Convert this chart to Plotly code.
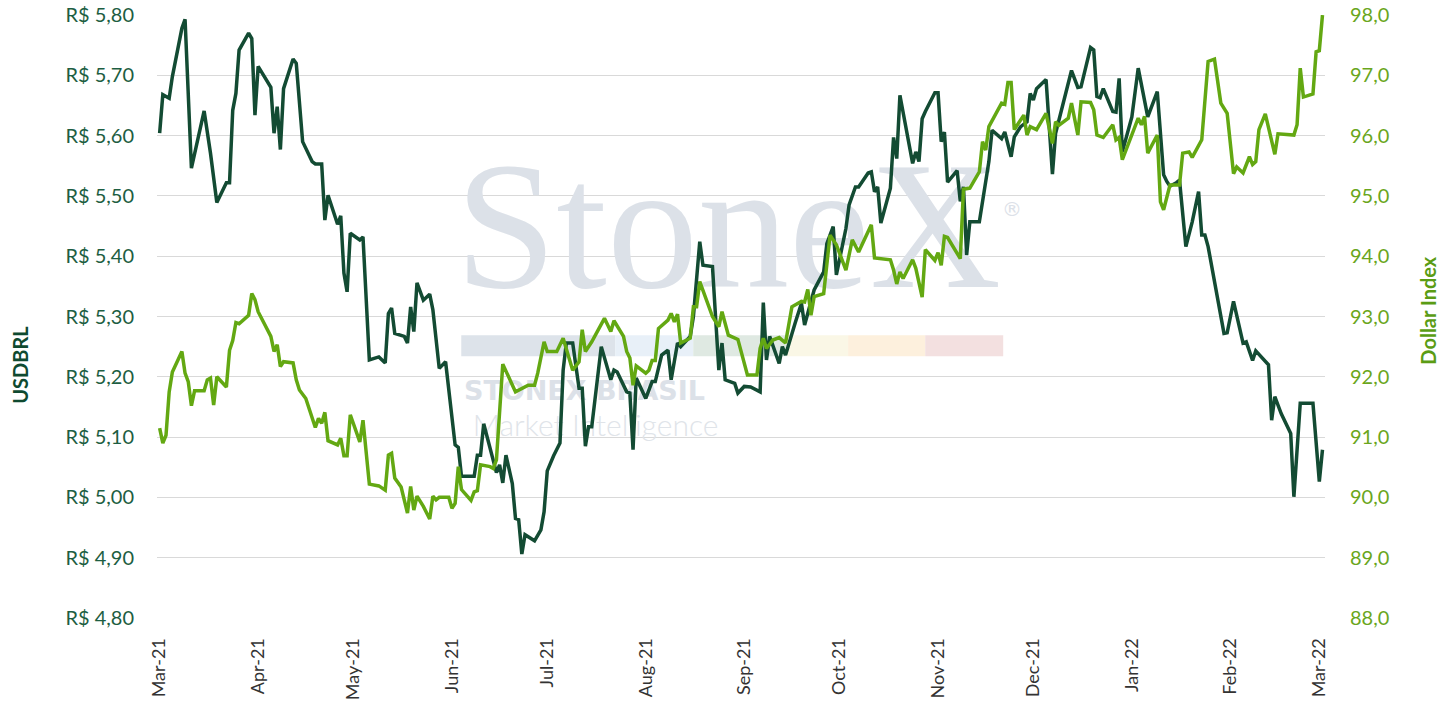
import plotly.graph_objects as go

# USDBRL (left axis)
usd_dates = [
    "2021-03-01", "2021-03-02", "2021-03-04", "2021-03-05", "2021-03-08", "2021-03-09", "2021-03-11",
    "2021-03-15", "2021-03-17", "2021-03-19", "2021-03-22", "2021-03-23", "2021-03-24", "2021-03-25",
    "2021-03-26", "2021-03-29", "2021-03-30", "2021-03-31", "2021-04-01", "2021-04-05", "2021-04-06",
    "2021-04-07", "2021-04-08", "2021-04-09", "2021-04-12", "2021-04-13", "2021-04-15", "2021-04-18",
    "2021-04-19", "2021-04-21", "2021-04-22", "2021-04-23", "2021-04-26", "2021-04-27", "2021-04-28",
    "2021-04-29", "2021-04-30", "2021-05-03", "2021-05-04", "2021-05-06", "2021-05-09", "2021-05-11",
    "2021-05-12", "2021-05-13", "2021-05-14", "2021-05-17", "2021-05-18", "2021-05-19", "2021-05-20",
    "2021-05-21", "2021-05-23", "2021-05-25", "2021-05-26", "2021-05-28", "2021-05-30", "2021-06-02",
    "2021-06-03", "2021-06-04", "2021-06-08", "2021-06-09", "2021-06-10", "2021-06-11", "2021-06-15",
    "2021-06-16", "2021-06-17", "2021-06-18", "2021-06-20", "2021-06-21", "2021-06-22", "2021-06-23",
    "2021-06-24", "2021-06-27", "2021-06-29", "2021-06-30", "2021-07-01", "2021-07-03", "2021-07-05",
    "2021-07-06", "2021-07-07", "2021-07-09", "2021-07-11", "2021-07-12", "2021-07-13", "2021-07-14",
    "2021-07-15", "2021-07-18", "2021-07-21", "2021-07-22", "2021-07-23", "2021-07-26", "2021-07-27",
    "2021-07-28", "2021-07-29", "2021-08-01", "2021-08-03", "2021-08-04", "2021-08-06", "2021-08-08",
    "2021-08-09", "2021-08-11", "2021-08-12", "2021-08-15", "2021-08-16", "2021-08-18", "2021-08-19",
    "2021-08-22", "2021-08-24", "2021-08-25", "2021-08-26", "2021-08-29", "2021-08-30", "2021-09-01",
    "2021-09-03", "2021-09-06", "2021-09-07", "2021-09-08", "2021-09-09", "2021-09-12", "2021-09-13",
    "2021-09-14", "2021-09-17", "2021-09-19", "2021-09-20", "2021-09-23", "2021-09-26", "2021-09-27",
    "2021-09-29", "2021-09-30", "2021-10-03", "2021-10-04", "2021-10-06", "2021-10-07", "2021-10-10",
    "2021-10-11", "2021-10-12", "2021-10-13", "2021-10-14", "2021-10-17", "2021-10-18", "2021-10-19",
    "2021-10-20", "2021-10-21", "2021-10-24", "2021-10-25", "2021-10-26", "2021-10-27", "2021-10-28",
    "2021-10-31", "2021-11-01", "2021-11-02", "2021-11-03", "2021-11-04", "2021-11-07", "2021-11-08",
    "2021-11-09", "2021-11-10", "2021-11-11", "2021-11-14", "2021-11-16", "2021-11-17", "2021-11-18",
    "2021-11-21", "2021-11-22", "2021-11-24", "2021-11-25", "2021-11-27", "2021-11-29", "2021-11-30",
    "2021-12-01", "2021-12-02", "2021-12-05", "2021-12-07", "2021-12-08", "2021-12-12", "2021-12-13",
    "2021-12-15", "2021-12-16", "2021-12-19", "2021-12-20", "2021-12-21", "2021-12-22", "2021-12-23",
    "2021-12-26", "2021-12-27", "2021-12-28", "2021-12-29", "2022-01-01", "2022-01-03", "2022-01-06",
    "2022-01-09", "2022-01-11", "2022-01-12", "2022-01-13", "2022-01-15", "2022-01-16", "2022-01-18",
    "2022-01-20", "2022-01-22", "2022-01-23", "2022-01-24", "2022-01-25", "2022-01-30", "2022-01-31",
    "2022-02-02", "2022-02-05", "2022-02-06", "2022-02-08", "2022-02-09", "2022-02-13", "2022-02-14",
    "2022-02-15", "2022-02-17", "2022-02-20", "2022-02-21", "2022-02-23", "2022-02-27", "2022-03-01",
    "2022-03-02",
]
usd_values = [
    5.604, 5.668, 5.662, 5.698, 5.778, 5.793, 5.546,
    5.641, 5.571, 5.489, 5.522, 5.522, 5.642, 5.670,
    5.742, 5.770, 5.761, 5.634, 5.715, 5.680, 5.604,
    5.648, 5.577, 5.678, 5.727, 5.720, 5.590, 5.557,
    5.553, 5.553, 5.460, 5.501, 5.453, 5.467, 5.372,
    5.341, 5.438, 5.427, 5.432, 5.228, 5.233, 5.223,
    5.305, 5.314, 5.272, 5.267, 5.256, 5.316, 5.275,
    5.356, 5.327, 5.337, 5.311, 5.214, 5.225, 5.087,
    5.083, 5.035, 5.035, 5.070, 5.070, 5.122, 5.041,
    5.054, 5.024, 5.070, 5.023, 4.965, 4.963, 4.906,
    4.938, 4.928, 4.946, 4.976, 5.044, 5.069, 5.090,
    5.211, 5.256, 5.256, 5.181, 5.181, 5.085, 5.117,
    5.117, 5.250, 5.195, 5.211, 5.208, 5.175, 5.173,
    5.079, 5.198, 5.164, 5.192, 5.192, 5.236, 5.244,
    5.195, 5.256, 5.250, 5.267, 5.300, 5.424, 5.385,
    5.383, 5.211, 5.256, 5.195, 5.189, 5.173, 5.184,
    5.183, 5.175, 5.323, 5.228, 5.267, 5.222, 5.250,
    5.236, 5.289, 5.322, 5.286, 5.344, 5.374, 5.421,
    5.449, 5.369, 5.446, 5.485, 5.515, 5.515, 5.538,
    5.540, 5.507, 5.515, 5.455, 5.513, 5.597, 5.562,
    5.667, 5.637, 5.554, 5.573, 5.557, 5.628, 5.640,
    5.671, 5.671, 5.590, 5.606, 5.523, 5.542, 5.491,
    5.515, 5.402, 5.457, 5.457, 5.524, 5.557, 5.609,
    5.595, 5.606, 5.565, 5.598, 5.615, 5.623, 5.670,
    5.659, 5.678, 5.693, 5.536, 5.604, 5.689, 5.708,
    5.680, 5.681, 5.746, 5.742, 5.665, 5.663, 5.678,
    5.640, 5.639, 5.695, 5.573, 5.631, 5.712, 5.631,
    5.673, 5.535, 5.524, 5.516, 5.522, 5.526, 5.416,
    5.457, 5.507, 5.435, 5.435, 5.416, 5.272, 5.273,
    5.325, 5.256, 5.258, 5.227, 5.243, 5.220, 5.128,
    5.167, 5.139, 5.106, 5.001, 5.156, 5.156, 5.026,
    5.079,
]

# Dollar Index (right axis)
dxy_dates = [
    "2021-03-01", "2021-03-02", "2021-03-03", "2021-03-04", "2021-03-05", "2021-03-08", "2021-03-09",
    "2021-03-10", "2021-03-11", "2021-03-12", "2021-03-15", "2021-03-16", "2021-03-17", "2021-03-18",
    "2021-03-19", "2021-03-22", "2021-03-23", "2021-03-24", "2021-03-25", "2021-03-26", "2021-03-29",
    "2021-03-30", "2021-03-31", "2021-04-01", "2021-04-05", "2021-04-06", "2021-04-07", "2021-04-08",
    "2021-04-09", "2021-04-12", "2021-04-13", "2021-04-14", "2021-04-16", "2021-04-19", "2021-04-20",
    "2021-04-21", "2021-04-22", "2021-04-23", "2021-04-26", "2021-04-27", "2021-04-28", "2021-04-29",
    "2021-04-30", "2021-05-03", "2021-05-04", "2021-05-06", "2021-05-09", "2021-05-11", "2021-05-12",
    "2021-05-13", "2021-05-14", "2021-05-16", "2021-05-18", "2021-05-19", "2021-05-20", "2021-05-21",
    "2021-05-23", "2021-05-25", "2021-05-26", "2021-05-27", "2021-05-28", "2021-05-31", "2021-06-01",
    "2021-06-02", "2021-06-03", "2021-06-04", "2021-06-07", "2021-06-08", "2021-06-09", "2021-06-10",
    "2021-06-13", "2021-06-14", "2021-06-15", "2021-06-17", "2021-06-21", "2021-06-25", "2021-06-27",
    "2021-06-28", "2021-06-30", "2021-07-01", "2021-07-04", "2021-07-06", "2021-07-09", "2021-07-11",
    "2021-07-12", "2021-07-13", "2021-07-15", "2021-07-19", "2021-07-21", "2021-07-22", "2021-07-25",
    "2021-07-26", "2021-07-27", "2021-07-28", "2021-07-29", "2021-08-01", "2021-08-02", "2021-08-03",
    "2021-08-04", "2021-08-05", "2021-08-08", "2021-08-09", "2021-08-10", "2021-08-11", "2021-08-12",
    "2021-08-15", "2021-08-16", "2021-08-17", "2021-08-18", "2021-08-22", "2021-08-24", "2021-08-25",
    "2021-08-27", "2021-08-30", "2021-09-02", "2021-09-05", "2021-09-06", "2021-09-07", "2021-09-08",
    "2021-09-10", "2021-09-12", "2021-09-14", "2021-09-16", "2021-09-19", "2021-09-20", "2021-09-21",
    "2021-09-22", "2021-09-23", "2021-09-26", "2021-09-28", "2021-09-30", "2021-10-03", "2021-10-05",
    "2021-10-07", "2021-10-11", "2021-10-12", "2021-10-17", "2021-10-18", "2021-10-19", "2021-10-20",
    "2021-10-21", "2021-10-24", "2021-10-25", "2021-10-27", "2021-10-28", "2021-10-31", "2021-11-01",
    "2021-11-02", "2021-11-03", "2021-11-04", "2021-11-08", "2021-11-09", "2021-11-11", "2021-11-14",
    "2021-11-15", "2021-11-16", "2021-11-17", "2021-11-21", "2021-11-22", "2021-11-23", "2021-11-24",
    "2021-11-25", "2021-11-28", "2021-11-29", "2021-11-30", "2021-12-02", "2021-12-05", "2021-12-07",
    "2021-12-08", "2021-12-09", "2021-12-12", "2021-12-13", "2021-12-15", "2021-12-16", "2021-12-19",
    "2021-12-20", "2021-12-21", "2021-12-23", "2021-12-26", "2021-12-27", "2021-12-28", "2021-12-29",
    "2022-01-03", "2022-01-04", "2022-01-05", "2022-01-06", "2022-01-09", "2022-01-10", "2022-01-11",
    "2022-01-13", "2022-01-16", "2022-01-17", "2022-01-19", "2022-01-20", "2022-01-23", "2022-01-25",
    "2022-01-27", "2022-01-29", "2022-01-31", "2022-02-02", "2022-02-03", "2022-02-05", "2022-02-07",
    "2022-02-08", "2022-02-09", "2022-02-10", "2022-02-12", "2022-02-15", "2022-02-16", "2022-02-21",
    "2022-02-22", "2022-02-23", "2022-02-24", "2022-02-27", "2022-02-28", "2022-03-01", "2022-03-02",
]
dxy_values = [
    91.15, 90.90, 91.03, 91.75, 92.08, 92.42, 92.06,
    91.92, 91.52, 91.77, 91.77, 91.95, 91.98, 91.53,
    92.00, 91.83, 92.44, 92.60, 92.90, 92.88, 93.02,
    93.38, 93.28, 93.08, 92.67, 92.42, 92.53, 92.17,
    92.25, 92.23, 91.95, 91.78, 91.64, 91.16, 91.31,
    91.23, 91.41, 90.94, 90.87, 90.98, 90.69, 90.69,
    91.37, 90.92, 91.28, 90.22, 90.19, 90.12, 90.70,
    90.73, 90.32, 90.17, 89.74, 90.18, 89.79, 90.02,
    89.85, 89.64, 90.02, 89.96, 90.00, 90.00, 89.82,
    89.90, 90.51, 90.13, 89.95, 90.09, 90.11, 90.54,
    90.51, 90.48, 90.62, 92.21, 91.75, 91.86, 91.86,
    92.06, 92.58, 92.42, 92.42, 92.64, 92.11, 92.25,
    92.78, 92.42, 92.58, 92.97, 92.75, 92.93, 92.67,
    92.42, 92.31, 91.86, 92.18, 92.06, 92.11, 92.27,
    92.27, 92.80, 92.94, 93.05, 92.91, 93.04, 92.56,
    92.64, 93.16, 93.16, 93.58, 93.00, 92.83, 93.08,
    92.69, 92.62, 92.03, 92.03, 92.47, 92.64, 92.47,
    92.61, 92.65, 92.56, 93.16, 93.25, 93.24, 93.45,
    93.02, 93.33, 93.38, 94.35, 94.19, 93.77, 94.27,
    94.07, 94.52, 93.97, 93.94, 93.77, 93.54, 93.74,
    93.63, 93.94, 93.80, 93.32, 94.11, 93.93, 94.06,
    93.85, 94.33, 94.31, 93.96, 95.11, 95.13, 95.40,
    95.90, 95.76, 96.15, 96.54, 96.52, 96.88, 96.88,
    96.10, 96.34, 96.01, 96.15, 96.10, 96.37, 95.87,
    96.23, 96.17, 96.29, 96.54, 96.01, 96.56, 96.55,
    96.43, 96.01, 95.97, 96.18, 95.93, 95.97, 95.60,
    96.29, 96.18, 96.32, 95.71, 96.01, 94.90, 94.77,
    95.18, 95.18, 95.71, 95.73, 95.64, 95.93, 97.23,
    97.27, 96.54, 96.37, 95.37, 95.48, 95.38, 95.65,
    95.52, 95.57, 96.10, 96.36, 95.69, 96.03, 96.01,
    96.18, 97.12, 96.64, 96.69, 97.39, 97.41, 98.00,
]

x_range = ["2021-02-28 04:00", "2022-03-02 19:00"]
usd_ticks = [4.8, 4.9, 5.0, 5.1, 5.2, 5.3, 5.4, 5.5, 5.6, 5.7, 5.8]
usd_labels = ["R$ 4,80", "R$ 4,90", "R$ 5,00", "R$ 5,10", "R$ 5,20", "R$ 5,30",
              "R$ 5,40", "R$ 5,50", "R$ 5,60", "R$ 5,70", "R$ 5,80"]
dxy_ticks = [88, 89, 90, 91, 92, 93, 94, 95, 96, 97, 98]

DARK = "#134b33"
LIGHT = "#63a812"
WM = "#dce1e8"

fig = go.Figure()

# watermark (StoneX logo) on a hidden 0-1 base subplot, so the lines sit on top of it
fig.add_trace(go.Scatter(x=[0.489], y=[0.624], mode="text", text=["StoneX"],
                         textfont=dict(family="Liberation Serif", size=182, color=WM),
                         hoverinfo="skip", showlegend=False))
fig.add_trace(go.Scatter(x=[0.732], y=[0.675], mode="text", text=["®"],
                         textfont=dict(family="DejaVu Sans", size=20, color=WM),
                         hoverinfo="skip", showlegend=False))
fig.add_trace(go.Scatter(x=[0.366], y=[0.372], mode="text", text=["STONEX BRASIL"],
                         textfont=dict(family="DejaVu Sans", size=27, color=WM, weight="bold"),
                         hoverinfo="skip", showlegend=False))
fig.add_trace(go.Scatter(x=[0.3755], y=[0.315], mode="text", text=["Market Intelligence"],
                         textfont=dict(family="Lato", size=30, color="#e0e4e9", weight=300),
                         hoverinfo="skip", showlegend=False))

fig.add_trace(go.Scatter(x=usd_dates, y=usd_values, name="USDBRL", mode="lines",
                         line=dict(color=DARK, width=3.5), xaxis="x2", yaxis="y2"))
fig.add_trace(go.Scatter(x=dxy_dates, y=dxy_values, name="Dollar Index", mode="lines",
                         line=dict(color=LIGHT, width=3.5), xaxis="x2", yaxis="y3"))

# coloured strip of the logo
strip_x = [0.2605, 0.3923, 0.4591, 0.5395, 0.5917, 0.6577, 0.7245]
strip_colors = ["#dde3ea", "#e8f0f8", "#dfe9e2", "#faf7e6", "#fdf0dd", "#f3e0e0"]
for i, c in enumerate(strip_colors):
    fig.add_shape(type="rect", xref="paper", yref="paper", layer="below",
                  x0=strip_x[i], x1=strip_x[i + 1], y0=0.434, y1=0.469,
                  fillcolor=c, line_width=0)

fig.update_layout(
    width=1452, height=719,
    margin=dict(l=157, r=127, t=15, b=101, autoexpand=False),
    plot_bgcolor="white", paper_bgcolor="white",
    separators=",.",
    showlegend=False,
    hovermode=False,
    font=dict(family="Lato", size=19, color="#333333"),
    xaxis=dict(range=[0, 1], visible=False, fixedrange=True, automargin=False),
    yaxis=dict(range=[0, 1], visible=False, fixedrange=True, automargin=False),
    xaxis2=dict(overlaying="x", type="date", range=x_range, tick0="2021-03-01", dtick="M1",
                tickformat="%b-%y", tickangle=-90, showgrid=False, zeroline=False,
                ticks="outside", ticklen=12, tickcolor="rgba(0,0,0,0)", automargin=False,
                tickfont=dict(size=18, color="#333333")),
    yaxis2=dict(overlaying="y", side="left", range=[4.7999, 5.8001], tickvals=usd_ticks,
                ticktext=usd_labels, showgrid=True, gridcolor="#d9d9d9",
                gridwidth=1, zeroline=False, ticks="outside", ticklen=18, automargin=False,
                tickcolor="rgba(0,0,0,0)", tickfont=dict(size=20, color="#1d5e42")),
    yaxis3=dict(overlaying="y", side="right", range=[87.999, 98.001], tickvals=dxy_ticks,
                tickformat=".1f", showgrid=False, zeroline=False, ticks="outside",
                ticklen=20, tickcolor="rgba(0,0,0,0)", automargin=False,
                tickfont=dict(size=20, color="#6aa61c")),
    annotations=[
        dict(text="<b>USDBRL</b>", xref="paper", yref="paper", x=-0.1173, y=0.42,
             xanchor="center", yanchor="middle", textangle=-90, showarrow=False,
             font=dict(size=20, color="#0f4a30")),
        dict(text="<b>Dollar Index</b>", xref="paper", yref="paper", x=1.088, y=0.511,
             xanchor="center", yanchor="middle", textangle=-90, showarrow=False,
             font=dict(size=20, color="#5a9c14")),
    ],
)

# drop the browser's default 8px page margin so the figure sits at the window corner
fig.write_html("out.html", config={"displayModeBar": False},
               post_script="document.body.style.margin = '0px';")
